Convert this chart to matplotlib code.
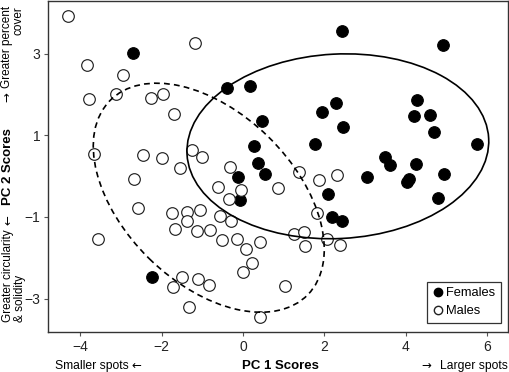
import matplotlib
matplotlib.use("Agg")
import matplotlib.pyplot as plt
from matplotlib.patches import Ellipse
from matplotlib.lines import Line2D

plt.rcParams['font.family'] = ['Liberation Sans', 'DejaVu Sans']

# PCA scores
fem_x = [-2.71, -0.39, 0.17, 0.46, 0.28, 0.36, 0.55, -0.13, -0.07, 2.43,
         4.92, 2.29, 1.94, 2.45, 1.76, 4.27, 4.19, 4.60, 4.70, 5.74,
         3.49, 3.60, 4.24, 4.93, 3.04, 4.02, 4.08, 2.09, 4.80, 2.19,
         2.42, -2.23]
fem_y = [3.02, 2.16, 2.20, 1.36, 0.74, 0.33, 0.06, -0.03, -0.58, 3.55,
         3.20, 1.79, 1.57, 1.21, 0.79, 1.86, 1.48, 1.49, 1.08, 0.79,
         0.47, 0.27, 0.30, 0.04, -0.02, -0.14, -0.08, -0.45, -0.53, -1.00,
         -1.10, -2.48]

male_x = [-4.29, -1.18, -3.83, -2.94, -3.78, -3.12, -2.26, -1.96, -1.70, -3.67,
          -2.46, -1.98, -1.25, -1.01, -1.54, -2.68, -0.32, -0.62, -0.05, -0.34,
          0.85, 1.38, 1.86, 2.30, -2.59, -3.55, -1.74, -1.37, -1.05, -1.37,
          -1.67, -1.12, -0.81, -0.57, -0.30, -0.52, -0.14, 0.07, 0.42, 0.23,
          -0.01, 1.81, 1.25, 1.51, 2.06, 1.52, 2.39, -1.49, -1.11, -1.72,
          -0.84, -1.32, 1.02, 0.42]
male_y = [3.93, 3.25, 2.73, 2.47, 1.90, 2.02, 1.92, 2.02, 1.51, 0.55,
          0.51, 0.44, 0.64, 0.46, 0.20, -0.06, 0.23, -0.27, -0.35, -0.55,
          -0.29, 0.09, -0.10, 0.03, -0.78, -1.55, -0.91, -0.89, -0.82, -1.10,
          -1.30, -1.35, -1.32, -0.97, -1.10, -1.57, -1.53, -1.79, -1.61, -2.14,
          -2.35, -0.91, -1.41, -1.36, -1.55, -1.72, -1.70, -2.46, -2.51, -2.71,
          -2.67, -3.20, -2.70, -3.44]

# 95% ellipses: centre x, centre y, width, height, angle (deg)
fem_ell = [2.33, 0.73, 7.42, 4.52, 3.0]
male_ell = [-0.84, -0.53, 6.80, 4.18, -44.3]

xticks = [-4, -2, 0, 2, 4, 6]
yticks = [-3, -1, 1, 3]

W, H = 510, 372
fig = plt.figure(figsize=(W / 100, H / 100), dpi=100)
ax = fig.add_axes([0.0941, 0.1075, 0.902, 0.8898])

ax.scatter(fem_x, fem_y, s=70, facecolor='black', edgecolor='black',
           linewidth=0.8, zorder=3)
ax.scatter(male_x, male_y, s=70, facecolor='white', edgecolor='#222222',
           linewidth=0.85, zorder=4)

ax.add_patch(Ellipse((fem_ell[0], fem_ell[1]), fem_ell[2], fem_ell[3],
                     angle=fem_ell[4], fill=False, edgecolor='black',
                     linewidth=1.2, zorder=5))
ax.add_patch(Ellipse((male_ell[0], male_ell[1]), male_ell[2], male_ell[3],
                     angle=male_ell[4], fill=False, edgecolor='black',
                     linewidth=1.2, linestyle=(0, (3.5, 2.5)), zorder=5))

ax.set_xlim(-4.79, 6.51)
ax.set_ylim(-3.82, 4.29)
ax.set_xticks(xticks)
ax.set_yticks(yticks)
ax.tick_params(direction='out', length=3, width=0.8, color='#555555',
               labelsize=10, labelcolor='#222222', pad=2.5)
for sp in ax.spines.values():
    sp.set_color('#333333')
    sp.set_linewidth(1.0)

handles = [Line2D([], [], marker='o', linestyle='none', markersize=6,
                  markerfacecolor='black', markeredgecolor='black', label='Females'),
           Line2D([], [], marker='o', linestyle='none', markersize=6,
                  markerfacecolor='white', markeredgecolor='#222222', label='Males')]
leg = ax.legend(handles=handles, loc='lower right', bbox_to_anchor=(0.985, 0.027),
                borderaxespad=0, fancybox=False, framealpha=1, fontsize=9.3,
                handletextpad=0.25, handlelength=0.8, borderpad=0.45,
                labelspacing=0.45)
leg.get_frame().set_edgecolor('#333333')
leg.get_frame().set_linewidth(0.9)


def ftext(px, py, s, **kw):
    # place text using pixel coordinates measured from the top-left corner
    return fig.text(px / W, 1 - py / H, s, **kw)


arrow_font = ['DejaVu Sans']

# x axis title and direction notes
ftext(280, 369, 'PC 1 Scores', ha='center', va='baseline',
      fontsize=9.5, fontweight='bold')
ftext(55, 369, 'Smaller spots', ha='left', va='baseline', fontsize=8.7)
ftext(131, 369, '\u2190', ha='left', va='baseline', fontsize=8.5, family=arrow_font)
ftext(421, 369, '\u2192', ha='left', va='baseline', fontsize=8.5, family=arrow_font)
ftext(508, 369, 'Larger spots', ha='right', va='baseline', fontsize=8.7)

# y axis title and direction notes
ftext(8, 167, 'PC 2 Scores', ha='center', va='center', rotation=90,
      fontsize=9.5, fontweight='bold')
ftext(8, 322, 'Greater circularity', ha='center', va='bottom', rotation=90,
      fontsize=8.5)
ftext(8, 220, '\u2190', ha='center', va='center', rotation=90, fontsize=8.5,
      family=arrow_font)
ftext(20, 322, '& solidity', ha='center', va='bottom', rotation=90, fontsize=8.5)
ftext(7, 6, 'Greater percent', ha='center', va='top', rotation=90, fontsize=8.5)
ftext(7, 97, '\u2192', ha='center', va='center', rotation=90, fontsize=8.5,
      family=arrow_font)
ftext(19, 6, 'cover', ha='center', va='top', rotation=90, fontsize=8.5)

fig.savefig('out.png', dpi=100)
